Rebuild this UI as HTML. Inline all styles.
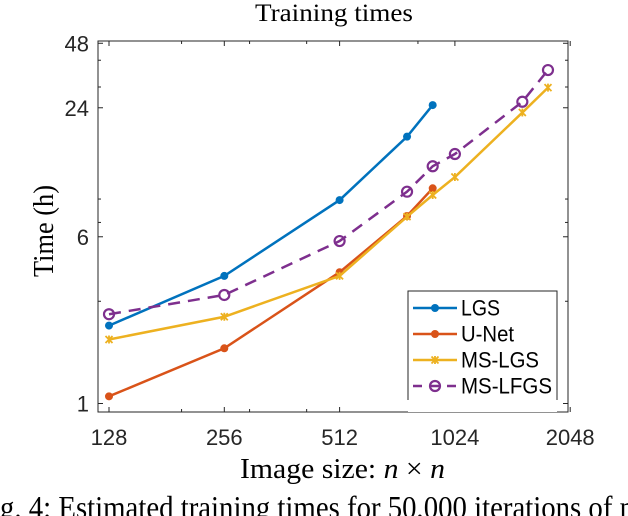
<!DOCTYPE html>
<html><head><meta charset="utf-8"><style>
body{margin:0;width:628px;height:516px;overflow:hidden;background:#fff}
svg{display:block}
.tk{font-family:"Liberation Sans",sans-serif;font-size:22px;fill:#262626}
.sr{font-family:"Liberation Serif",serif;fill:#000}
</style></head><body>
<svg id="chart" width="628" height="516" viewBox="0 0 628 516"></svg>
<script>
const xTicks=[128,256,512,1024,2048];
const yTicks=[1,6,24,48];
const xMinor=[198,298,420,820];
const yMinor=[3,7,9,30,40];
const lgsX=[128,256,512,768,896];
const lgsY=[2.31,3.94,8.9,17.6,24.7];
const unetX=[128,256,512,768,896];
const unetY=[1.08,1.81,4.1,7.5,10.1];
const mslgsX=[128,256,512,768,896,1024,1536,1792];
const mslgsY=[1.99,2.54,3.94,7.45,9.4,11.4,22.8,29.8];
const mslfgsX=[128,256,512,768,896,1024,1536,1792];
const mslfgsY=[2.61,3.21,5.73,9.74,12.8,14.6,25.6,36];
const L=98,R=568,T=41,B=412;
const xs=v=>109+(Math.log2(v)-7)*115.3;
const ys=v=>403.5-64.5*Math.log2(v);
const svg=document.getElementById('chart');
const NS='http://www.w3.org/2000/svg';
function mk(tag,attrs,parent){const e=document.createElementNS(NS,tag);for(const k in attrs)e.setAttribute(k,attrs[k]);(parent||svg).appendChild(e);return e;}
let t=mk('text',{x:255,y:21,'font-size':25,textLength:158,lengthAdjust:'spacingAndGlyphs',class:'sr'});t.textContent='Training times';


let box=mk('rect',{x:L,y:T,width:R-L,height:B-T,fill:'none',stroke:'#262626','stroke-width':1});


xTicks.forEach(v=>{const x=xs(v);
 mk('line',{x1:x,x2:x,y1:B,y2:B-5,stroke:'#262626'});mk('line',{x1:x,x2:x,y1:T,y2:T+5,stroke:'#262626'});
 const l=mk('text',{x:x,y:445,'text-anchor':'middle',class:'tk'});l.textContent=v;
 
 });
xMinor.forEach(v=>{const x=xs(v);mk('line',{x1:x,x2:x,y1:B,y2:B-3,stroke:'#262626'});mk('line',{x1:x,x2:x,y1:T,y2:T+3,stroke:'#262626'});});
yTicks.forEach(v=>{const y=ys(v);
 mk('line',{x1:L,x2:L+5,y1:y,y2:y,stroke:'#262626'});mk('line',{x1:R,x2:R-5,y1:y,y2:y,stroke:'#262626'});
 const l=mk('text',{x:89,y:y+8,'text-anchor':'end',class:'tk'});l.textContent=v;
 
 });
yMinor.forEach(v=>{const y=ys(v);mk('line',{x1:L,x2:L+3,y1:y,y2:y,stroke:'#262626'});mk('line',{x1:R,x2:R-3,y1:y,y2:y,stroke:'#262626'});});
let yl=mk('text',{x:0,y:0,transform:'translate(53,277) rotate(-90)','font-size':28,textLength:92,lengthAdjust:'spacingAndGlyphs',class:'sr'});yl.textContent='Time (h)';


let xl=mk('text',{x:240,y:478,'font-size':28,textLength:205,lengthAdjust:'spacingAndGlyphs',class:'sr'});xl.innerHTML='Image size: <tspan font-style="italic">n</tspan> × <tspan font-style="italic">n</tspan>';


let cap=mk('text',{x:0,y:518,'font-size':32,textLength:642,lengthAdjust:'spacingAndGlyphs',class:'sr'});cap.textContent='g. 4:  Estimated training times for 50,000 iterations of m';


function marker(type,x,y,c,g){
 if(type==='dot')mk('circle',{cx:x,cy:y,r:4,fill:c},g);
 else if(type==='x'){mk('path',{d:`M${x-3.5} ${y-3.5}L${x+3.5} ${y+3.5}M${x-3.5} ${y+3.5}L${x+3.5} ${y-3.5}M${x} ${y-4}L${x} ${y+4}`,stroke:c,'stroke-width':1.8},g);}
 else mk('circle',{cx:x,cy:y,r:5,fill:'none',stroke:c,'stroke-width':2.2},g);
}
const series=[
 {n:'lgs',x:lgsX,y:lgsY,c:'#0072BD',m:'dot',d:null},
 {n:'u-net',x:unetX,y:unetY,c:'#D95319',m:'dot',d:null},
 {n:'ms-lgs',x:mslgsX,y:mslgsY,c:'#EDB120',m:'x',d:null},
 {n:'ms-lfgs',x:mslfgsX,y:mslfgsY,c:'#7E2F8E',m:'o',d:'12 8'}];
series.forEach(s=>{
 const g=mk('g',{});
 
 
 const pts=s.x.map((v,i)=>xs(v)+','+ys(s.y[i])).join(' ');
 const a={points:pts,fill:'none',stroke:s.c,'stroke-width':2.5};if(s.d)a['stroke-dasharray']=s.d;
 mk('polyline',a,g);
 s.x.forEach((v,i)=>marker(s.m,xs(v),ys(s.y[i]),s.c,g));
});
const lg=mk('g',{});


mk('rect',{x:408,y:291,width:149,height:121,fill:'#fff',stroke:'none'},lg);
mk('path',{d:'M408 400V291H557V400',fill:'none',stroke:'#262626'},lg);
const names=['LGS','U-Net','MS-LGS','MS-LFGS'];
const widths=[39,53,78,91];
series.forEach((s,i)=>{const y=308+i*26;
 const e=mk('g',{},lg);
 
 
 const a={x1:413,x2:457,y1:y,y2:y,stroke:s.c,'stroke-width':2.5};if(s.d)a['stroke-dasharray']='9 8';
 mk('line',a,e);marker(s.m,435,y,s.c,e);
 const tx=mk('text',{x:461,y:y+7.5,'font-size':21,textLength:widths[i],lengthAdjust:'spacingAndGlyphs',class:'tk'},e);tx.textContent=names[i];tx.style.fill='#000';
});
</script>
</body></html>
